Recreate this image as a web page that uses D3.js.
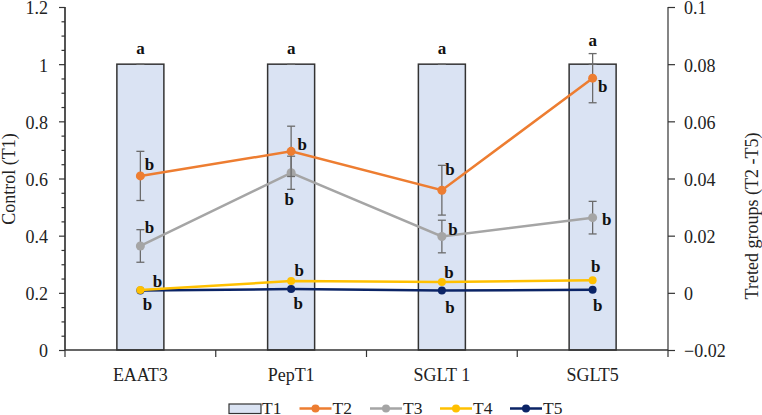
<!DOCTYPE html>
<html><head><meta charset="utf-8">
<script src="https://cdn.jsdelivr.net/npm/d3@7/dist/d3.min.js"></script>
<style>html,body{margin:0;padding:0;background:#fff;}svg{display:block;font-family:"Liberation Serif","Times New Roman",serif;}</style>
</head><body>
<script>
// ---- data ----
const categories = ["EAAT3", "PepT1", "SGLT 1", "SGLT5"];
const t1 = [1, 1, 1, 1];
const t1Err = [0, 0, 0, 0];
const t2 = [0.0409, 0.0495, 0.0359, 0.0751];
const t2Err = [0.0086, 0.0088, 0.0087, 0.0086];
const t3 = [0.0164, 0.0420, 0.0197, 0.0263];
const t3Err = [0.0057, 0.0058, 0.0057, 0.0057];
const t4 = [0.0010, 0.0041, 0.0038, 0.0044];
const t5 = [0.0008, 0.0013, 0.0008, 0.0011];
const t1Letters = ["a", "a", "a", "a"];
const t2Letters = ["b", "b", "b", "b"];
const t3Letters = ["b", "b", "b", "b"];
const t4Letters = ["b", "b", "b", "b"];
const t5Letters = ["b", "b", "b", "b"];
const leftTicks = [0, 0.2, 0.4, 0.6, 0.8, 1, 1.2];
const rightTicks = [-0.02, 0, 0.02, 0.04, 0.06, 0.08, 0.1];
const legendLabels = ["T1", "T2", "T3", "T4", "T5"];

// ---- layout / style ----
const W = 762, H = 415;
const L = 65, R = 668, T = 7, B = 350;
const FONT = "Liberation Serif";
const colors = {T2: "#ED7D31", T3: "#A5A5A5", T4: "#FFC000", T5: "#0B2466"};
// letter offsets (px) relative to the marker, per series per category
const off = {
  T2: [[9, -11], [11, -7], [8, -21], [10, 8]],
  T3: [[9, -18], [-2, 27], [11, -7], [14, 2]],
  T4: [[17, -8], [8, -11], [7, -9], [3, -14]],
  T5: [[7, 14], [7, 14], [8, 17], [5, 16]]
};
const aY = [48, 48, 48, 40];

const svg = d3.select("body").append("svg").attr("width", W).attr("height", H)
  .attr("font-family", FONT);

const x = d3.scaleBand().domain(categories).range([L, R]);
const yL = d3.scaleLinear().domain([0, 1.2]).range([B, T]);
const yR = d3.scaleLinear().domain([-0.02, 0.1]).range([B, T]);
const cx = c => x(c) + x.bandwidth() / 2;
const axisColor = "#333";

// bars
const barW = 47;
svg.append("g").selectAll("rect").data(categories).join("rect")
  .attr("x", c => cx(c) - barW / 2).attr("width", barW)
  .attr("y", (c, i) => yL(t1[i])).attr("height", (c, i) => yL(0) - yL(t1[i]))
  .attr("fill", "#DAE3F3").attr("stroke", "#333").attr("stroke-width", 1.5);

// T1 error bars (zero)
const errG = svg.append("g").attr("stroke", "#6b6b6b").attr("stroke-width", 1.3);
categories.forEach((c, i) => {
  errG.append("line").attr("x1", cx(c) - 4).attr("x2", cx(c) + 4)
    .attr("y1", yL(t1[i] + t1Err[i])).attr("y2", yL(t1[i] + t1Err[i]));
});

function styleAxisText(g) {
  g.attr("font-family", FONT).attr("font-size", 18);
  g.selectAll("text").attr("font-size", 18).attr("fill", "#222").attr("font-family", FONT);
}

// left axis
const gl = svg.append("g").attr("transform", `translate(${L},0)`);
gl.call(d3.axisLeft(yL).tickValues(d3.range(0, 1.2001, 0.05)).tickSize(3.5).tickFormat(""));
gl.call(g => g.selectAll(".tick").filter(d => leftTicks.some(t => Math.abs(t - d) < 1e-6)).remove());
const gl2 = svg.append("g").attr("transform", `translate(${L},0)`);
gl2.call(d3.axisLeft(yL).tickValues(leftTicks).tickSize(6).tickPadding(11).tickFormat(d3.format("~g")));
[gl, gl2].forEach(g => {
  g.selectAll("path,line").attr("stroke", axisColor).attr("stroke-width", 1.2);
  g.select(".domain").attr("d", `M0,${B}V${T}`);
});
styleAxisText(gl2);
gl2.selectAll("text").attr("dy", "0.38em");

// right axis
const gr = svg.append("g").attr("transform", `translate(${R},0)`);
gr.call(d3.axisRight(yR).tickValues(rightTicks).tickSize(7).tickPadding(9).tickFormat(d3.format("~g")));
gr.selectAll("path,line").attr("stroke", axisColor).attr("stroke-width", 1.2);
gr.select(".domain").attr("d", `M0,${B}V${T}`);
styleAxisText(gr);
gr.selectAll("text").attr("dy", "0.38em");

// bottom axis
const gb = svg.append("g").attr("transform", `translate(0,${B})`);
gb.call(d3.axisBottom(x).tickSize(0).tickPadding(18));
gb.select(".domain").attr("d", `M${L},0H${R}`).attr("stroke", axisColor).attr("stroke-width", 1.5);
styleAxisText(gb);
const bounds = x.domain().map(c => x(c)).concat([R]);
svg.append("g").selectAll("line").data(bounds).join("line")
  .attr("x1", d => d).attr("x2", d => d).attr("y1", B).attr("y2", B + 7)
  .attr("stroke", axisColor).attr("stroke-width", 1.2);

// axis titles
svg.append("text").attr("transform", `translate(15,179) rotate(-90)`)
  .attr("text-anchor", "middle").attr("font-size", 18).attr("fill", "#222").text("Control (T1)");
svg.append("text").attr("transform", `translate(757.5,216) rotate(-90)`)
  .attr("text-anchor", "middle").attr("font-size", 18).attr("fill", "#222").text("Treted groups (T2 -T5)");

// series
const series = [
  {key: "T5", vals: t5, err: null, letters: t5Letters, r: 4},
  {key: "T4", vals: t4, err: null, letters: t4Letters, r: 4},
  {key: "T3", vals: t3, err: t3Err, letters: t3Letters, r: 4.5},
  {key: "T2", vals: t2, err: t2Err, letters: t2Letters, r: 4.5}
];
const line = d3.line().x(d => cx(d.c)).y(d => yR(d.v));
series.forEach(s => {
  const pts = categories.map((c, i) => ({c, v: s.vals[i], i}));
  const g = svg.append("g");
  if (s.err) {
    pts.forEach(p => {
      const e = s.err[p.i], X = cx(p.c);
      const y1 = yR(p.v + e), y2 = yR(p.v - e);
      g.append("line").attr("x1", X).attr("x2", X).attr("y1", y1).attr("y2", y2);
      g.append("line").attr("x1", X - 4).attr("x2", X + 4).attr("y1", y1).attr("y2", y1);
      g.append("line").attr("x1", X - 4).attr("x2", X + 4).attr("y1", y2).attr("y2", y2);
    });
    g.selectAll("line").attr("stroke", "#6b6b6b").attr("stroke-width", 1.3);
  }
  g.append("path").datum(pts).attr("d", line).attr("fill", "none")
    .attr("stroke", colors[s.key]).attr("stroke-width", 2.5);
  g.selectAll("circle").data(pts).join("circle")
    .attr("cx", p => cx(p.c)).attr("cy", p => yR(p.v)).attr("r", s.r)
    .attr("fill", colors[s.key]);
});

// letters
const letterG = svg.append("g").attr("font-size", 17).attr("font-weight", "bold")
  .attr("fill", "#111").attr("text-anchor", "middle").attr("dominant-baseline", "central");
categories.forEach((c, i) => {
  letterG.append("text").attr("x", cx(c)).attr("y", aY[i]).text(t1Letters[i]);
});
series.forEach(s => {
  categories.forEach((c, i) => {
    const o = off[s.key][i];
    letterG.append("text").attr("x", cx(c) + o[0]).attr("y", yR(s.vals[i]) + o[1]).text(s.letters[i]);
  });
});

// legend
const lg = svg.append("g");
const legX = [229, 299.5, 370, 440, 510];
legendLabels.forEach((lab, i) => {
  const x0 = legX[i], yc = 408.5;
  if (lab === "T1") {
    lg.append("rect").attr("x", x0).attr("y", yc - 4.5).attr("width", 32).attr("height", 9.5)
      .attr("fill", "#DAE3F3").attr("stroke", "#333").attr("stroke-width", 1.2);
  } else {
    lg.append("line").attr("x1", x0).attr("x2", x0 + 32).attr("y1", yc).attr("y2", yc)
      .attr("stroke", colors[lab]).attr("stroke-width", 2.5);
    lg.append("circle").attr("cx", x0 + 16).attr("cy", yc).attr("r", 4).attr("fill", colors[lab]);
  }
  lg.append("text").attr("x", x0 + 33).attr("y", 414).attr("font-size", 17.5).attr("fill", "#222").text(lab);
});
</script>
</body></html>
